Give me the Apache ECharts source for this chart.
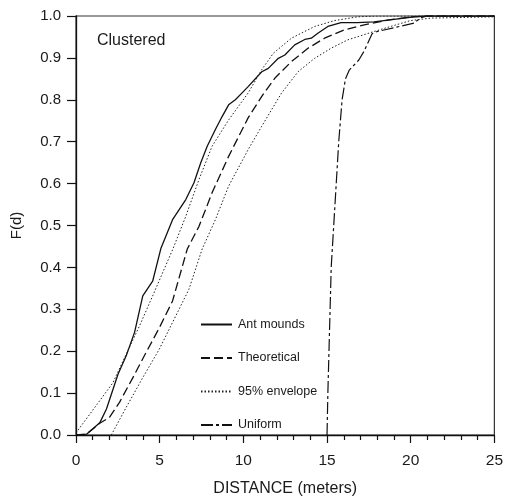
<!DOCTYPE html>
<html>
<head>
<meta charset="utf-8">
<script src="https://cdn.jsdelivr.net/npm/echarts@6/dist/echarts.min.js"></script>
<style>
html,body{margin:0;padding:0;background:#fff;}
#chart{width:506px;height:502px;}
</style>
</head>
<body>
<div id="chart"></div>
<script>
// Distance (m) / F(d) pairs
const antMoundsX = [0, 0.63, 1.42, 1.82, 2.51, 3.0, 3.5, 3.99, 4.58, 5.07, 5.77, 6.56, 7.05, 7.45, 7.84, 8.33, 8.73, 9.12, 9.52, 9.91, 10.3, 11.1, 11.49, 12.09, 12.48, 13.07, 13.67, 14.06, 14.45, 15.05, 15.84, 16.8, 17.8, 19.0, 20.2, 21.0, 25];
const antMoundsY = [0, 0.002, 0.029, 0.062, 0.145, 0.189, 0.245, 0.332, 0.367, 0.445, 0.514, 0.562, 0.602, 0.649, 0.689, 0.729, 0.760, 0.788, 0.800, 0.816, 0.832, 0.867, 0.875, 0.899, 0.907, 0.931, 0.944, 0.947, 0.959, 0.975, 0.984, 0.984, 0.986, 0.992, 0.998, 1.0, 1.0];

const theoreticalX = [0, 0.63, 1.42, 2.0, 2.6, 3.4, 4.19, 4.98, 5.77, 6.65, 7.35, 8.13, 9.12, 10.3, 11.1, 11.89, 12.87, 13.86, 14.85, 16.04, 17.22, 18.6, 19.98, 21, 25];
const theoreticalY = [0, 0.002, 0.028, 0.042, 0.078, 0.137, 0.197, 0.256, 0.320, 0.444, 0.498, 0.578, 0.665, 0.758, 0.808, 0.852, 0.891, 0.923, 0.947, 0.967, 0.979, 0.990, 0.998, 1.0, 1.0];

const upperEnvX = [0, 1.42, 2.21, 3.0, 3.79, 4.58, 5.8, 6.56, 7.35, 8.13, 9.12, 10.3, 11.1, 11.79, 12.87, 14.26, 15.44, 16.82, 18, 25];
const upperEnvY = [0.005, 0.082, 0.125, 0.193, 0.260, 0.332, 0.445, 0.522, 0.610, 0.689, 0.752, 0.817, 0.872, 0.911, 0.947, 0.975, 0.989, 0.998, 1.0, 1.0];

const lowerEnvX = [2.11, 3.0, 3.99, 4.98, 5.96, 6.75, 7.54, 8.33, 9.12, 10.3, 11.1, 12.28, 13.27, 14.26, 15.24, 16.23, 17.81, 18.8, 19.98, 21.2, 25];
const lowerEnvY = [0, 0.066, 0.137, 0.205, 0.284, 0.348, 0.444, 0.514, 0.594, 0.682, 0.737, 0.816, 0.867, 0.899, 0.923, 0.943, 0.963, 0.975, 0.989, 0.995, 0.998];

const uniformX = [15.0, 15.05, 15.15, 15.25, 15.4, 15.55, 15.7, 15.9, 16.1, 16.33, 16.9, 17.2, 17.7, 18.0, 19.0, 20.2, 20.6, 21.0, 25];
const uniformY = [0, 0.10, 0.25, 0.40, 0.50, 0.60, 0.70, 0.80, 0.85, 0.871, 0.895, 0.915, 0.958, 0.963, 0.972, 0.983, 0.996, 1.0, 1.0];

const seriesNames = ['Ant mounds', 'Theoretical', '95% envelope', 'Uniform'];
const xTicks = [0, 5, 10, 15, 20, 25];
const yTicks = [0, 0.1, 0.2, 0.3, 0.4, 0.5, 0.6, 0.7, 0.8, 0.9, 1.0];

function pairs(xs, ys) { return xs.map((x, i) => [x, ys[i]]); }

const FONT = "'Liberation Sans', Arial, Helvetica, sans-serif";
const INK = '#1a1a1a';

const chart = echarts.init(document.getElementById('chart'), null, {renderer: 'canvas'});

const baseLine = {type: 'line', symbol: 'none', showSymbol: false, smooth: false, animation: false, z: 3};

chart.setOption({
  backgroundColor: '#fff',
  animation: false,
  textStyle: {fontFamily: FONT, color: INK},
  grid: {left: 76, right: 8, top: 16, bottom: 66, show: true, borderColor: '#333', borderWidth: 1.2, backgroundColor: 'transparent'},
  legend: {
    data: seriesNames,
    orient: 'vertical',
    left: 195,
    top: 313,
    itemWidth: 31,
    itemHeight: 14,
    itemGap: 20.5,
    itemStyle: {opacity: 0, borderWidth: 0},
    textStyle: {fontFamily: FONT, fontSize: 12.5, color: INK, padding: [0, 0, 0, 1]},
    selectedMode: false
  },
  graphic: [{
    type: 'text', left: 97, top: 33,
    style: {text: 'Clustered', font: "16px 'Liberation Sans', Arial, sans-serif", fill: INK}
  }],
  xAxis: {
    type: 'value', min: 0, max: 25, interval: 5,
    name: 'DISTANCE (meters)', nameLocation: 'middle', nameGap: 46,
    nameTextStyle: {fontFamily: FONT, fontSize: 16, color: INK},
    axisLine: {show: true, lineStyle: {color: '#111', width: 1.3}},
    axisTick: {show: true, inside: false, length: 8, lineStyle: {color: '#111', width: 1.2}},
    minorTick: {show: true, splitNumber: 5, length: 5, lineStyle: {color: '#111', width: 1.2}},
    axisLabel: {fontFamily: FONT, fontSize: 15.5, color: INK, margin: 18},
    splitLine: {show: false}
  },
  yAxis: {
    type: 'value', min: 0, max: 1, interval: 0.1,
    name: 'F(d)', nameLocation: 'middle', nameGap: 52, nameRotate: 90,
    nameTextStyle: {fontFamily: FONT, fontSize: 15, color: INK},
    axisLine: {show: true, lineStyle: {color: '#111', width: 1.3}},
    axisTick: {show: true, inside: false, length: 9, lineStyle: {color: '#111', width: 1.2}},
    axisLabel: {fontFamily: FONT, fontSize: 15, color: INK, margin: 15, formatter: v => v.toFixed(1)},
    splitLine: {show: false}
  },
  series: [
    Object.assign({}, baseLine, {
      name: seriesNames[0], data: pairs(antMoundsX, antMoundsY),
      lineStyle: {color: '#111', width: 1.3, type: 'solid'}, itemStyle: {color: '#111'}
    }),
    Object.assign({}, baseLine, {
      name: seriesNames[1], data: pairs(theoreticalX, theoreticalY),
      lineStyle: {color: '#111', width: 1.3, type: [9, 4]}, itemStyle: {color: '#111'}
    }),
    Object.assign({}, baseLine, {
      name: seriesNames[2], data: pairs(upperEnvX, upperEnvY),
      lineStyle: {color: '#222', width: 1, type: [1.5, 2]}, itemStyle: {color: '#222'}
    }),
    Object.assign({}, baseLine, {
      name: seriesNames[2], data: pairs(lowerEnvX, lowerEnvY),
      lineStyle: {color: '#222', width: 1, type: [1.5, 2]}, itemStyle: {color: '#222'}
    }),
    Object.assign({}, baseLine, {
      name: seriesNames[3], data: pairs(uniformX, uniformY),
      lineStyle: {color: '#111', width: 1.2, type: [12, 3, 3, 3]}, itemStyle: {color: '#111'}
    })
  ]
});
</script>
</body>
</html>
